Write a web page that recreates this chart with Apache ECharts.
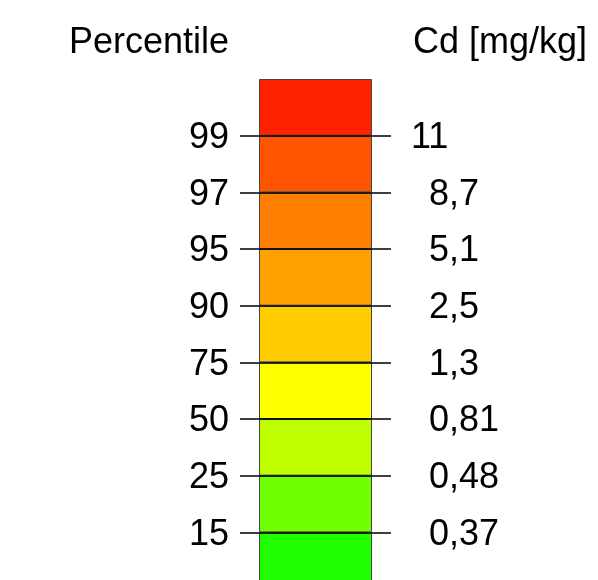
<!DOCTYPE html>
<html>
<head>
<meta charset="utf-8">
<script src="https://cdn.jsdelivr.net/npm/echarts@6/dist/echarts.min.js"></script>
<style>html,body{margin:0;padding:0;background:#fff;}#c{width:598px;height:580px;}</style>
</head>
<body>
<div id="c"></div>
<script>
// Class boundaries, from top (index 1) to bottom (index 8)
var percentiles = ['15', '25', '50', '75', '90', '95', '97', '99'];
var cdValues = ['0,37', '0,48', '0,81', '1,3', '2,5', '5,1', '8,7', '11'];
// Colour classes, from bottom to top
var classColors = ['#20ff00', '#70ff00', '#bfff00', '#ffff00', '#ffcc00', '#ffa000', '#ff8000', '#ff5500', '#ff2200'];
var classSize = [1, 1, 1, 1, 1, 1, 1, 1, 1];
var leftTitle = 'Percentile';
var rightTitle = 'Cd [mg/kg]';

var FONT = 'Liberation Sans, Arial, sans-serif';
var FS = 36;
var chart = echarts.init(document.getElementById('c'));

var series = classColors.map(function (col, i) {
  return {
    type: 'bar',
    stack: 'scale',
    barWidth: 113,
    data: [classSize[i]],
    itemStyle: { color: col, borderColor: '#444', borderWidth: 1 },
    silent: true,
    animation: false
  };
});
series.push({
  type: 'line',
  data: [],
  silent: true,
  animation: false,
  markLine: {
    symbol: 'none',
    silent: true,
    label: { show: false },
    lineStyle: { color: '#000', width: 1.5, type: 'solid' },
    data: percentiles.map(function (p, i) { return { yAxis: i + 1 }; })
  },
  z: 10
});

chart.setOption({
  animation: false,
  title: [
    { text: leftTitle, left: 64, top: 20, textStyle: { fontFamily: FONT, fontSize: FS, fontWeight: 'normal', color: '#000' } },
    { text: rightTitle, left: 408, top: 20, textStyle: { fontFamily: FONT, fontSize: FS, fontWeight: 'normal', color: '#000' } }
  ],
  grid: { left: 240, top: 79, width: 151, height: 510, containLabel: false, outerBoundsMode: 'none' },
  xAxis: { type: 'category', data: [''], show: false },
  yAxis: [
    {
      type: 'value', min: 0, max: 9, interval: 1, position: 'left',
      axisLine: { show: false }, axisTick: { show: false }, splitLine: { show: false },
      axisLabel: {
        margin: 11, fontFamily: FONT, fontSize: FS, color: '#000', padding: [5, 0, 0, 0],
        formatter: function (v) { return (v >= 1 && v <= 8) ? '{n|' + percentiles[v - 1] + '}' : ''; },
        rich: { n: { fontFamily: FONT, fontSize: FS, color: '#000' } }
      }
    },
    {
      type: 'value', min: 0, max: 9, interval: 1, position: 'right',
      axisLine: { show: false }, axisTick: { show: false }, splitLine: { show: false },
      axisLabel: {
        margin: 20, fontFamily: FONT, fontSize: FS, color: '#000', align: 'left', padding: [5, 0, 0, 0],
        formatter: function (v) {
          if (v < 1 || v > 8) return '';
          var t = cdValues[v - 1];
          return t === '11' ? t : '{p|' + t + '}';
        },
        rich: { p: { padding: [0, 0, 0, 18], fontFamily: FONT, fontSize: FS, color: '#000' } }
      }
    }
  ],
  series: series
});
</script>
</body>
</html>
